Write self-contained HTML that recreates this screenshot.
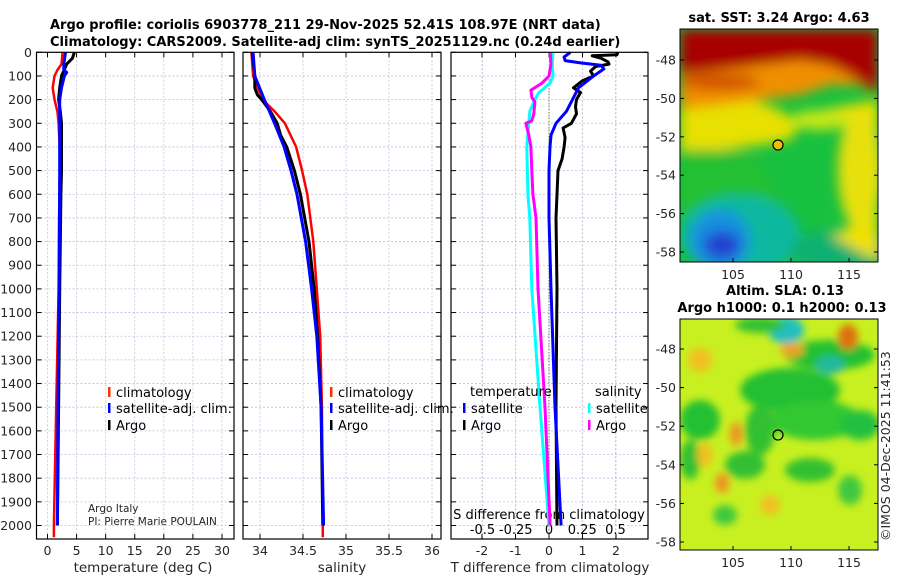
<!DOCTYPE html>
<html><head><meta charset="utf-8">
<style>
body{margin:0;background:#fff;}
svg{display:block;font-family:"DejaVu Sans","Liberation Sans",sans-serif;}
.tk{font-size:12.5px;fill:#262626;}
.ttl{font-size:13px;font-weight:bold;fill:#000;}
.lg{font-size:13px;fill:#000;}
</style></head>
<body>
<svg id="chart" width="900" height="580" viewBox="0 0 900 580" xmlns="http://www.w3.org/2000/svg">
<defs>
<filter id="blur4" x="-20%" y="-20%" width="140%" height="140%"><feGaussianBlur stdDeviation="4"/></filter>
<filter id="blur6" x="-20%" y="-20%" width="140%" height="140%"><feGaussianBlur stdDeviation="6"/></filter>
<clipPath id="clipTop"><rect x="680" y="29" width="198" height="233"/></clipPath>
<clipPath id="clipBot"><rect x="680" y="319" width="198" height="231"/></clipPath>
</defs>
<text class="ttl" x="50" y="29">Argo profile: coriolis 6903778_211 29-Nov-2025 52.41S 108.97E (NRT data)</text>
<text class="ttl" x="50" y="46">Climatology: CARS2009. Satellite-adj clim: synTS_20251129.nc (0.24d earlier)</text>

<!-- top map -->
<g clip-path="url(#clipTop)">
<rect x="680" y="29" width="198" height="233" fill="#18c040"/>
<g filter="url(#blur6)">
<polygon points="680,100 680,240 760,250 780,200 760,160 700,140" fill="#20c030"/>
<ellipse cx="740" cy="235" rx="60" ry="40" fill="#10b8a0"/>
<ellipse cx="720" cy="240" rx="30" ry="30" fill="#1890e0"/>
<ellipse cx="722" cy="245" rx="18" ry="14" fill="#2040d0"/>
<ellipse cx="840" cy="250" rx="50" ry="20" fill="#10b070"/>
<path d="M820,110 C880,120 880,230 830,235 L878,262 L878,100 Z" fill="#f0e000"/>
<ellipse cx="860" cy="170" rx="22" ry="60" fill="#e8e010"/>
<polygon points="680,95 680,150 720,150 760,145 790,140 800,125 780,110 740,95" fill="#e8e000"/>
<polygon points="680,60 680,110 720,105 760,100 800,95 830,85 860,85 878,95 878,60" fill="#f09000"/>
<polygon points="680,29 680,75 720,70 760,65 800,60 830,65 850,75 878,95 878,29" fill="#a80000"/>
<ellipse cx="720" cy="82" rx="40" ry="8" fill="#d05000"/>
<ellipse cx="820" cy="120" rx="30" ry="10" fill="#c8e818"/>
</g>
<circle cx="778" cy="145" r="5" fill="#f0c000" stroke="#000" stroke-width="1.2"/>
</g>
<rect x="680" y="29" width="198" height="233" fill="none" stroke="#000" stroke-width="1"/>
<text class="ttl" x="779" y="22" text-anchor="middle">sat. SST: 3.24 Argo: 4.63</text>

<!-- bottom map -->
<g clip-path="url(#clipBot)">
<rect x="680" y="319" width="198" height="231" fill="#c8f020"/>
<g filter="url(#blur4)">
<ellipse cx="790" cy="390" rx="50" ry="22" fill="#20c030"/>
<ellipse cx="815" cy="420" rx="45" ry="20" fill="#30c830"/>
<ellipse cx="760" cy="430" rx="15" ry="25" fill="#30c030"/>
<ellipse cx="700" cy="420" rx="20" ry="20" fill="#20c030"/>
<ellipse cx="860" cy="425" rx="20" ry="15" fill="#20c040"/>
<ellipse cx="830" cy="355" rx="45" ry="15" fill="#20c030"/>
<ellipse cx="830" cy="365" rx="15" ry="9" fill="#20b8a0"/>
<ellipse cx="786" cy="330" rx="18" ry="14" fill="#20c0c0"/>
<ellipse cx="760" cy="325" rx="25" ry="8" fill="#30c030"/>
<ellipse cx="745" cy="465" rx="20" ry="14" fill="#30c030"/>
<ellipse cx="810" cy="470" rx="25" ry="12" fill="#30c030"/>
<ellipse cx="850" cy="490" rx="12" ry="15" fill="#40c840"/>
<ellipse cx="725" cy="515" rx="12" ry="10" fill="#40c840"/>
<ellipse cx="690" cy="460" rx="10" ry="20" fill="#30c030"/>
<ellipse cx="848" cy="337" rx="10" ry="13" fill="#e07010"/>
<ellipse cx="736" cy="434" rx="6" ry="12" fill="#f09020"/>
<ellipse cx="722" cy="483" rx="7" ry="10" fill="#f09020"/>
<ellipse cx="792" cy="350" rx="12" ry="7" fill="#f0a020"/>
<ellipse cx="770" cy="505" rx="10" ry="10" fill="#f0c020"/>
<ellipse cx="700" cy="360" rx="12" ry="12" fill="#f0c020"/>
<ellipse cx="705" cy="455" rx="8" ry="12" fill="#f0c020"/>
</g>
<circle cx="778" cy="435" r="5" fill="none" stroke="#000" stroke-width="1.2"/>
</g>
<rect x="680" y="319" width="198" height="231" fill="none" stroke="#000" stroke-width="1"/>
<text class="ttl" x="785" y="295" text-anchor="middle">Altim. SLA: 0.13</text>
<text class="ttl" x="782" y="312" text-anchor="middle">Argo h1000: 0.1 h2000: 0.13</text>
<text class="tk" transform="translate(890,541) rotate(-90)">©IMOS 04-Dec-2025 11:41:53</text>

<g id="plots"></g>
</svg>
<script>
// ---- data ----
const depthTicks=[0,100,200,300,400,500,600,700,800,900,1000,1100,1200,1300,1400,1500,1600,1700,1800,1900,2000];
const tempTicks=[0,5,10,15,20,25,30];
const salTicks=[34,34.5,35,35.5,36];
const tdiffTicks=[-2,-1,0,1,2];
const sdiffTicks=[-0.5,-0.25,0,0.25,0.5];
const sdiffLabels=["-0.5","-0.25","0","0.25","0.5"];

const tClimDepth=[0,50,75,100,150,200,250,300,400,500,700,1000,1500,2000,2050];
const tClimVal=[2.6,2.4,1.7,1.2,0.9,1.2,1.7,1.9,2.1,2.1,2.0,1.9,1.5,1.1,1.1];
const tSatDepth=[0,50,75,85,100,150,200,300,500,1000,1500,2000];
const tSatVal=[3.1,2.8,2.8,3.3,2.9,2.4,2.1,2.1,2.1,2.0,1.8,1.7];
const tArgoDepth=[0,25,50,100,150,200,250,300,400,500,600,1000,1500,2000];
const tArgoVal=[4.6,4.3,3.3,2.4,2.1,1.9,2.2,2.4,2.4,2.4,2.3,2.1,1.9,1.7];

const sClimDepth=[0,100,200,250,300,400,500,600,800,1000,1200,1500,2000,2050];
const sClimVal=[33.90,33.92,34.03,34.17,34.29,34.42,34.49,34.55,34.62,34.66,34.70,34.72,34.73,34.73];
const sSatDepth=[0,100,200,300,400,500,600,800,1000,1200,1500,2000];
const sSatVal=[33.92,33.94,34.05,34.17,34.28,34.36,34.43,34.53,34.60,34.66,34.71,34.74];
const sArgoDepth=[0,100,150,180,200,250,300,350,400,500,600,800,1000,1200,1500,2000];
const sArgoVal=[33.91,33.94,33.94,33.97,34.02,34.12,34.20,34.24,34.31,34.40,34.47,34.57,34.63,34.67,34.71,34.73];

const dtArgoDepth=[0,10,15,25,40,50,60,80,100,120,150,170,200,230,260,300,320,360,400,450,500,600,700,1000,1500,2000];
const dtArgoVal=[2.05,2.03,1.29,1.55,1.76,1.79,1.39,1.24,1.33,1.0,0.73,0.94,0.82,0.79,0.82,0.67,0.42,0.48,0.45,0.39,0.27,0.24,0.21,0.24,0.21,0.24];
const dtSatDepth=[0,20,35,45,55,70,100,150,200,250,300,350,400,500,700,1000,1500,2000];
const dtSatVal=[0.64,0.45,0.48,0.94,1.55,1.64,1.33,0.88,0.70,0.52,0.21,0.06,0.03,0,0,0.06,0.18,0.36];
const dsSatDepth=[0,50,100,130,170,200,250,300,400,600,700,1000,1500,2000];
const dsSatVal=[0.03,0.023,0.03,0.008,-0.076,-0.106,-0.144,-0.152,-0.167,-0.159,-0.144,-0.129,-0.068,0];
const dsArgoDepth=[0,50,100,130,160,190,210,260,290,300,350,400,500,600,700,1000,1500,2000];
const dsArgoVal=[0.008,0.015,0,-0.053,-0.136,-0.129,-0.106,-0.114,-0.129,-0.174,-0.152,-0.136,-0.129,-0.121,-0.098,-0.083,-0.03,0.008];

// ---- axes ----
const NS="http://www.w3.org/2000/svg";
const g=document.getElementById('plots');
const yTop=52.3, yBot=539;
const yD=d=>yTop+d*0.2366;
function lin(d0,d1,r0,r1){return v=>r0+(v-d0)*(r1-r0)/(d1-d0);}
const xT=lin(0,30,47.5,222);
const xS=lin(34,35,260,346);
const xDT=lin(0,1,549,582.5);
const xDS=lin(0,0.5,549,615.5);
function el(tag,attrs,parent){const e=document.createElementNS(NS,tag);for(const k in attrs)e.setAttribute(k,attrs[k]);(parent||g).appendChild(e);return e;}

const panels=[
 {x0:36.5,x1:234,name:'temperature-panel',xf:xT,ticks:tempTicks,labels:tempTicks.map(String),xlabel:'temperature (deg C)',xlx:143},
 {x0:243,x1:441,name:'salinity-panel',xf:xS,ticks:salTicks,labels:salTicks.map(String),xlabel:'salinity',xlx:342},
 {x0:451,x1:648,name:'difference-panel',xf:xDT,ticks:tdiffTicks,labels:tdiffTicks.map(String),xlabel:'T difference from climatology',xlx:550}
];
panels.forEach((p,pi)=>{
 const pg=el('g',{});
 
 
 // grid
 depthTicks.forEach(d=>{const l=el('line',{x1:p.x0,x2:p.x1,y1:yD(d),y2:yD(d),stroke:'#b8bfe0','stroke-width':0.8,'stroke-dasharray':'2,2'},pg);
   });
 p.ticks.forEach(t=>{const x=p.xf(t);el('line',{x1:x,x2:x,y1:yTop,y2:yBot,stroke:'#c8c0d8','stroke-width':0.8,'stroke-dasharray':'2,2'},pg);});
 if(pi===2){sdiffTicks.forEach(t=>{const x=xDS(t);el('line',{x1:x,x2:x,y1:yTop,y2:yBot,stroke:'#c8c0d8','stroke-width':0.8,'stroke-dasharray':'2,2'},pg);});}
 // ticks
 depthTicks.forEach(d=>{el('line',{x1:p.x0,x2:p.x0+5,y1:yD(d),y2:yD(d),stroke:'#000'},pg);el('line',{x1:p.x1,x2:p.x1-5,y1:yD(d),y2:yD(d),stroke:'#000'},pg);});
 p.ticks.forEach((t,i)=>{const x=p.xf(t);el('line',{x1:x,x2:x,y1:yBot,y2:yBot-5,stroke:'#000'},pg);el('line',{x1:x,x2:x,y1:yTop,y2:yTop+5,stroke:'#000'},pg);
   const tx=el('text',{x:x,y:yBot+16,'text-anchor':'middle',class:'tk'},pg);tx.textContent=p.labels[i];
   });
 const xl=el('text',{x:p.xlx,y:yBot+33,'text-anchor':'middle',class:'tk',style:'font-size:13.5px'},pg);xl.textContent=p.xlabel;
 
 p.g=pg;
});
// depth labels
depthTicks.forEach(d=>{const t=el('text',{x:32,y:yD(d)+4.5,'text-anchor':'end',class:'tk'});t.textContent=String(d);
 });
// zero dotted line in diff panel
el('line',{x1:xDT(0),x2:xDT(0),y1:yTop+18,y2:yBot,stroke:'#445522','stroke-width':1,'stroke-dasharray':'1,2'});
// S diff axis labels inside panel
{const t=el('text',{x:549,y:519,'text-anchor':'middle',class:'lg'});t.textContent='S difference from climatology';
 }
sdiffTicks.forEach((v,i)=>{const t=el('text',{x:xDS(v),y:534,'text-anchor':'middle',class:'lg'});t.textContent=sdiffLabels[i];
 });

// ---- series ----
function line(xf,depths,vals,color,w,name){
 const pts=depths.map((d,i)=>xf(vals[i]).toFixed(1)+','+yD(d).toFixed(1)).join(' ');
 const p=el('polyline',{points:pts,fill:'none',stroke:color,'stroke-width':w,'stroke-linejoin':'round'});
 
 
}
line(xT,tClimDepth,tClimVal,'#ff0000',2.5,'temp-climatology-line');
line(xT,tArgoDepth,tArgoVal,'#000000',3,'temp-argo-line');
line(xT,tSatDepth,tSatVal,'#0000ff',3,'temp-satellite-line');
line(xS,sClimDepth,sClimVal,'#ff0000',2.5,'sal-climatology-line');
line(xS,sArgoDepth,sArgoVal,'#000000',3,'sal-argo-line');
line(xS,sSatDepth,sSatVal,'#0000ff',3,'sal-satellite-line');
line(xDS,dsSatDepth,dsSatVal,'#00ffff',3,'sdiff-satellite-line');
line(xDS,dsArgoDepth,dsArgoVal,'#ff00ff',3,'sdiff-argo-line');
line(xDT,dtArgoDepth,dtArgoVal,'#000000',3,'tdiff-argo-line');
line(xDT,dtSatDepth,dtSatVal,'#0000ff',3,'tdiff-satellite-line');

// frames
panels.forEach(p=>{el('rect',{x:p.x0,y:yTop,width:p.x1-p.x0,height:yBot-yTop,fill:'none',stroke:'#000','stroke-width':1.2});});

// ---- legends ----
function legend(x,y,color,label,name){
 el('rect',{x:x,y:y-10,width:2.5,height:10,fill:color});
 const t=el('text',{x:x+8,y:y,class:'lg'});t.textContent=label;
 
}
[[108,'temp'],[330,'sal']].forEach(([lx,k])=>{
 legend(lx,397,'#ff3000','climatology',k+'-legend-climatology');
 legend(lx,413,'#0000ff','satellite-adj. clim.',k+'-legend-satellite');
 legend(lx,430,'#000','Argo',k+'-legend-argo');
});
{const t=el('text',{x:470,y:396,class:'lg'});t.textContent='temperature';}
{const t=el('text',{x:595,y:396,class:'lg'});t.textContent='salinity';}
legend(463,413,'#0000ff','satellite','tdiff-legend-satellite');
legend(463,430,'#000','Argo','tdiff-legend-argo');
legend(588,413,'#00ffff','satellite','sdiff-legend-satellite');
legend(588,430,'#ff00ff','Argo','sdiff-legend-argo');
{const t=el('text',{x:88,y:512,class:'tk',style:'font-size:10.5px'});t.textContent='Argo Italy';}
{const t=el('text',{x:88,y:525,class:'tk',style:'font-size:10.5px'});t.textContent='PI: Pierre Marie POULAIN';}

// ---- map axes ----
const mapLatTicks=[-48,-50,-52,-54,-56,-58];
const mapLonTicks=[105,110,115];
function mapAxes(y48,y58,bottom,name){
 const yl=lin(-48,-58,y48,y58), xl=lin(105,115,733,849);
 mapLatTicks.forEach(v=>{const y=yl(v);el('line',{x1:680,x2:684,y1:y,y2:y,stroke:'#000'});el('line',{x1:878,x2:874,y1:y,y2:y,stroke:'#000'});
  const t=el('text',{x:676,y:y+4.5,'text-anchor':'end',class:'tk'});t.textContent=String(v);
  });
 mapLonTicks.forEach(v=>{const x=xl(v);el('line',{x1:x,x2:x,y1:bottom,y2:bottom-4,stroke:'#000'});
  const t=el('text',{x:x,y:bottom+17,'text-anchor':'middle',class:'tk'});t.textContent=String(v);
  });
}
mapAxes(60,252,262,'sst-map');
mapAxes(349,542,550,'sla-map');
</script>
</body></html>
